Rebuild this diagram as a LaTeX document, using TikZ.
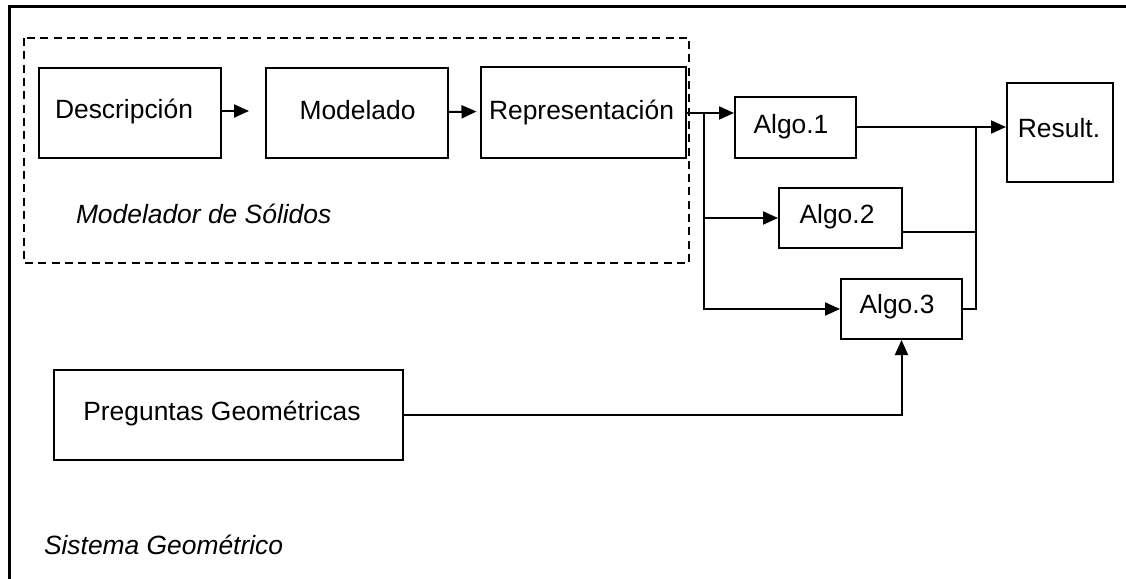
\documentclass[tikz,border=0pt]{standalone}
\usepackage{fontspec}
\setmainfont{Liberation Sans}
\usetikzlibrary{arrows.meta}
\begin{document}
\begin{tikzpicture}[x=1pt,y=-1pt,
  line width=2pt,
  box/.style={draw,rectangle,inner sep=0pt,line width=2pt},
  txt/.style={inner sep=0pt,anchor=base,font=\fontsize{26.4pt}{30pt}\selectfont},
  itxt/.style={txt,anchor=base west,font=\fontsize{26.4pt}{30pt}\selectfont\itshape},
  flow/.style={line width=2pt,-{Triangle[length=15pt,width=13pt]}},
  wire/.style={line width=2pt}]
\useasboundingbox (0,0) rectangle (1126,578);

% outer frame (system boundary)
\draw[line width=2.3pt] (9.5,580) -- (9.5,6.5) -- (1128,6.5);

% solid modeller (dashed group)
\draw[line width=2pt,dash pattern=on 8pt off 5.3pt] (24,38) rectangle (689,263);

% boxes
\node[box,minimum width=182pt,minimum height=90pt] (desc)   at (130,113)   {};
\node[box,minimum width=182pt,minimum height=90pt] (model)  at (357,113)   {};
\node[box,minimum width=205pt,minimum height=91pt] (rep)    at (583.5,112.5) {};
\node[box,minimum width=121pt,minimum height=61pt] (algoA)  at (795.5,127.5) {};
\node[box,minimum width=123pt,minimum height=60pt] (algoB)  at (840.5,218) {};
\node[box,minimum width=121pt,minimum height=60pt] (algoC)  at (901.5,309) {};
\node[box,minimum width=106pt,minimum height=99pt] (result) at (1060,132.5) {};
\node[box,minimum width=349pt,minimum height=90pt] (preg)   at (228.5,415) {};

% labels
\node[txt] (tdesc)   at (124,118)   {Descripción};
\node[txt] (tmodel)  at (357.5,119) {Modelado};
\node[txt] (trep)    at (581.5,119) {Representación};
\node[txt] (talgoA)  at (791,133)   {Algo.1};
\node[txt] (talgoB)  at (837,223)   {Algo.2};
\node[txt] (talgoC)  at (897,313)   {Algo.3};
\node[txt] (tresult) at (1059,137)  {Result.};
\node[txt] (tpreg)   at (222,420)   {Preguntas Geométricas};
\node[itxt] (tmod)   at (75,223)    {Modelador de Sólidos};
\node[itxt] (tsys)   at (43,554)    {Sistema Geométrico};

% pipeline inside the modeller
\draw[flow,shorten >=16pt] ([yshift=2pt]desc.east) -- ([yshift=2pt]model.west);
\draw[flow,shorten >=3.5pt] ([yshift=1pt]model.east) -- ([yshift=1pt]rep.west);

% fan-out to the algorithms
\coordinate (split) at (704,113);
\draw[flow] ([yshift=-0.5pt]rep.east) -- ([yshift=-0.5pt]rep.east -| algoA.west);
\draw[flow] (split) |- (algoB.west);
\draw[flow] (split) |- (algoC.west);

% fan-in to the result
\coordinate (join) at (976,128);
\draw[flow] ([yshift=0.5pt]algoA.east) -- ([yshift=0.5pt]algoA.east -| result.west);
\draw[wire] ([yshift=-14pt]algoB.east) -- ([yshift=-14pt]algoB.east -| join);
\draw[wire] (algoC.east) -| (join);

% geometric queries into the third algorithm
\draw[flow] (preg.east) -| (algoC.south);
\end{tikzpicture}
\end{document}
